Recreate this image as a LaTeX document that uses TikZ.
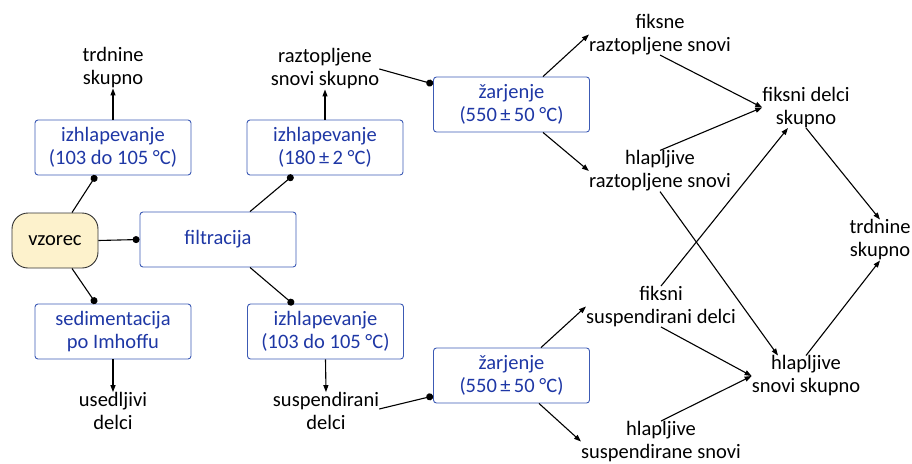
\documentclass[tikz,border=0pt]{standalone}
\usepackage{fontspec}
\setmainfont{Carlito}
\usetikzlibrary{arrows.meta,calc}
\definecolor{boxblue}{RGB}{60,90,180}
\definecolor{txtblue}{RGB}{30,55,165}
\definecolor{cream}{RGB}{253,242,204}
\newcommand{\fsz}{\fontsize{20.5}{23}\selectfont}
\begin{document}
\begin{tikzpicture}[x=1pt,y=-1pt,
  proc/.style={draw=boxblue, line width=0.9pt, rounded corners=3pt, minimum width=156pt, minimum height=55pt, align=center, text=txtblue, font=\fsz, inner sep=0pt},
  start/.style={draw=black!80, line width=0.9pt, fill=cream, rounded corners=16pt, minimum width=86pt, minimum height=55pt, font=\fsz, inner sep=0pt},
  lbl/.style={align=center, font=\fsz, inner sep=0pt},
  conn/.style={line width=1.1pt},
  arr/.style={conn, -{Triangle[length=7pt,width=5pt]}},
  dotc/.style={conn, -{Circle[length=7pt]}}]
\useasboundingbox (0,0) rectangle (912,463);
% process boxes
\node[start] (v) at (55,240.5) {vzorec};
\node[proc] (e1) at (113,147.5) {izhlapevanje\\(103 do 105 °C)};
\node[proc] (e2) at (325,147.5) {izhlapevanje\\(180\,±\,2 °C)};
\node[proc] (f) at (218,239.5) {filtracija};
\node[proc] (s) at (113,331.5) {sedimentacija\\po Imhoffu};
\node[proc] (e3) at (325.5,331.5) {izhlapevanje\\(103 do 105 °C)};
\node[proc] (z1) at (511.5,104.5) {žarjenje\\(550\,±\,50 °C)};
\node[proc] (z2) at (511.5,375.5) {žarjenje\\(550\,±\,50 °C)};
% labels
\node[lbl] (ts) at (113,68) {trdnine\\skupno};
\node[lbl] (rs) at (325,69) {raztopljene\\snovi skupno};
\node[lbl] (ud) at (113,411) {usedljivi\\delci};
\node[lbl] (sd) at (326,411) {suspendirani\\delci};
\node[lbl] (frs) at (660,34.5) {fiksne\\raztopljene snovi};
\node[lbl] (hrs) at (660,171) {hlapljive\\raztopljene snovi};
\node[lbl] (fds) at (806,107.5) {fiksni delci\\skupno};
\node[lbl] (tsk) at (880,240) {trdnine\\skupno};
\node[lbl] (fsd) at (661,306.5) {fiksni\\suspendirani delci};
\node[lbl] (hss) at (806,376) {hlapljive\\snovi skupno};
\node[lbl] (hsus) at (661,441.5) {hlapljive\\suspendirane snovi};
% left connectors
\draw[dotc] ($(v.north)+(17,0)$) -- ($(e1.south)+(-17,0)$);
\draw[dotc] (v.east) -- (f.west);
\draw[dotc] ($(v.south)+(17,0)$) -- ($(s.north)+(-17,0)$);
\draw[dotc] ($(f.north)+(32,0)$) -- ($(e2.south)+(-32,0)$);
\draw[dotc] ($(f.south)+(32,0)$) -- ($(e3.south)+(-32,-55)$);
\draw[arr] (e1.north) -- (ts.south);
\draw[arr] (e2.north) -- (rs.south);
\draw[arr] (s.south) -- (ud.north);
\draw[arr] (e3.south) -- (sd.north);
\draw[dotc] (rs.east) -- ($(z1.west)+(0,-20.5)$);
\draw[dotc] ($(sd.east)+(0,-2)$) -- ($(z2.west)+(0,20.5)$);
% right connectors
\draw[arr] ($(z1.north)+(31.5,0)$) -- (frs.west);
\draw[arr] ($(z1.south)+(31.5,0)$) -- (hrs.west);
\draw[arr] ($(z2.north)+(29.5,0)$) -- (fsd.west);
\draw[arr] ($(z2.south)+(27.5,0)$) -- (hsus.west);
\draw[arr] (frs.south) -- (fds.west);
\draw[arr] (hrs.north) -- (fds.west);
\draw[arr] (hrs.south) -- ($(hss.north)+(-28,0)$);
\draw[arr] (fsd.north) -- ($(fds.south)+(-18,0)$);
\draw[arr] (fsd.south) -- (hss.west);
\draw[arr] (hsus.north) -- (hss.west);
\draw[arr] (fds.south) -- (tsk.north);
\draw[arr] (hss.north) -- (tsk.south);
\end{tikzpicture}
\end{document}
